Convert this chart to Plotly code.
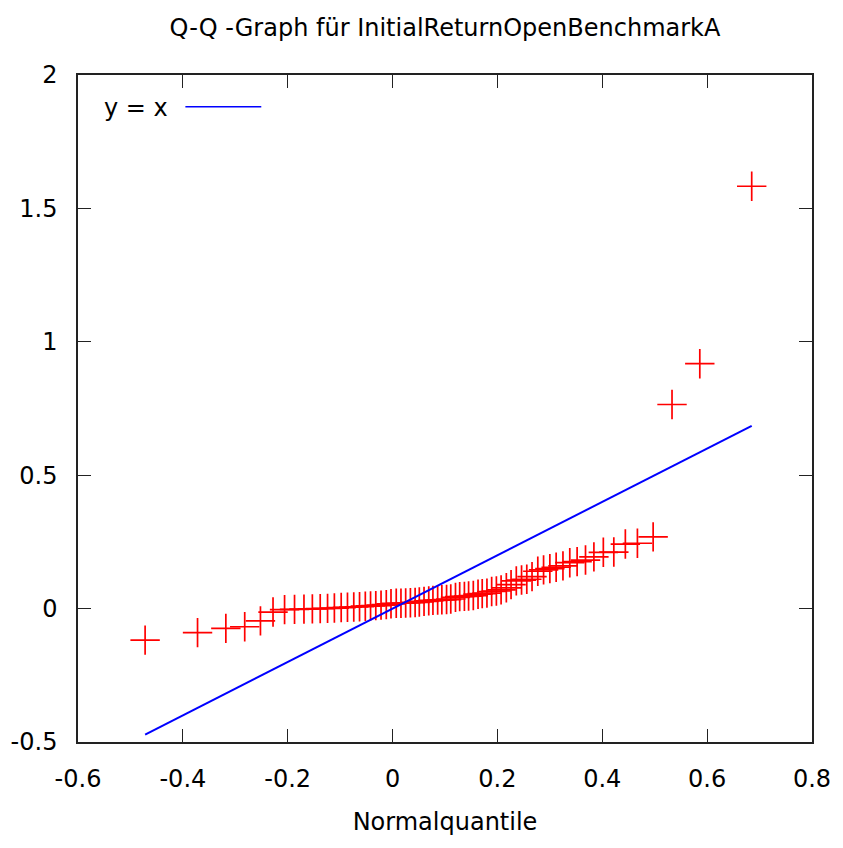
import plotly.graph_objects as go

# Normal quantiles (x) and sorted sample values (y)
quantiles = [
    -0.472, -0.372, -0.318, -0.282, -0.252, -0.228, -0.206, -0.187, -0.169, -0.153,
    -0.138, -0.124, -0.111, -0.098, -0.086, -0.074, -0.063, -0.052, -0.042, -0.032,
    -0.022, -0.012, -0.003, 0.007, 0.016, 0.025, 0.034, 0.043, 0.051, 0.060,
    0.069, 0.077, 0.086, 0.094, 0.103, 0.111, 0.120, 0.128, 0.137, 0.145,
    0.154, 0.163, 0.171, 0.180, 0.189, 0.198, 0.207, 0.217, 0.226, 0.236,
    0.246, 0.256, 0.266, 0.277, 0.288, 0.300, 0.312, 0.325, 0.338, 0.352,
    0.368, 0.384, 0.402, 0.422, 0.444, 0.467, 0.497, 0.533, 0.586, 0.685,
]
returns = [
    -0.118, -0.090, -0.074, -0.068, -0.046, -0.013, -0.004, -0.003, -0.002, -0.001,
    0.000, 0.001, 0.002, 0.004, 0.005, 0.006, 0.007, 0.009, 0.010, 0.011,
    0.013, 0.015, 0.018, 0.020, 0.020, 0.021, 0.022, 0.023, 0.025, 0.027,
    0.029, 0.031, 0.032, 0.033, 0.034, 0.036, 0.042, 0.045, 0.046, 0.047,
    0.049, 0.054, 0.056, 0.058, 0.064, 0.066, 0.070, 0.078, 0.090, 0.104,
    0.107, 0.110, 0.120, 0.140, 0.145, 0.150, 0.155, 0.160, 0.172, 0.176,
    0.182, 0.194, 0.211, 0.212, 0.242, 0.245, 0.269, 0.765, 0.918, 1.583,
]

x_ticks = [-0.6, -0.4, -0.2, 0, 0.2, 0.4, 0.6, 0.8]
x_ticktext = ["-0.6", "-0.4", "-0.2", "0", "0.2", "0.4", "0.6", "0.8"]
y_ticks = [-0.5, 0, 0.5, 1, 1.5, 2]
y_ticktext = ["-0.5", "0", "0.5", "1", "1.5", "2"]

FONT = "DejaVu Sans"
FS = 24

line_x = [min(quantiles), max(quantiles)]

fig = go.Figure()
fig.add_trace(go.Scatter(
    x=quantiles, y=returns, mode="markers",
    marker=dict(symbol="cross-thin", size=21, color="#ff0000",
                line=dict(color="#ff0000", width=1.7)),
    showlegend=False,
))
fig.add_trace(go.Scatter(
    x=line_x, y=line_x, mode="lines",
    line=dict(color="#0000ff", width=2),
    showlegend=False,
))

axis_common = dict(
    showgrid=False, zeroline=False, showline=True, linecolor="#222222", linewidth=1.5,
    mirror="ticks", ticks="inside", ticklen=13, tickwidth=1.3, tickcolor="#222222",
    tickfont=dict(family=FONT, size=FS, color="black"),
)

fig.update_layout(
    width=843, height=848,
    margin=dict(l=77.5, r=30.5, t=75, b=106),
    paper_bgcolor="white", plot_bgcolor="white",
    font=dict(family=FONT, size=FS, color="black"),
    title=dict(text="Q-Q -Graph für InitialReturnOpenBenchmarkA",
               x=0.5, xref="paper", xanchor="center",
               y=1 - 28 / 848, yref="container", yanchor="middle",
               font=dict(family=FONT, size=FS, color="black")),
    xaxis=dict(range=[-0.6, 0.8], tickvals=x_ticks, ticktext=x_ticktext,
               ticklabelstandoff=14,
               title=dict(text="Normalquantile", standoff=22,
                          font=dict(family=FONT, size=FS, color="black")),
               **axis_common),
    yaxis=dict(range=[-0.5, 2], tickvals=y_ticks, ticktext=y_ticktext,
               ticklabelstandoff=14, **axis_common),
    showlegend=False,
)

# Legend replica (gnuplot style: text, then line sample)
fig.add_annotation(x=0.1259, y=0.951, xref="paper", yref="paper",
                   text="y = x", showarrow=False, xanchor="right", yanchor="middle",
                   font=dict(family=FONT, size=FS, color="black"))
fig.add_shape(type="line", xref="paper", yref="paper",
              x0=0.1463, x1=0.2497, y0=0.9525, y1=0.9525,
              line=dict(color="#0000ff", width=1.6))

fig.write_html("out.html")
